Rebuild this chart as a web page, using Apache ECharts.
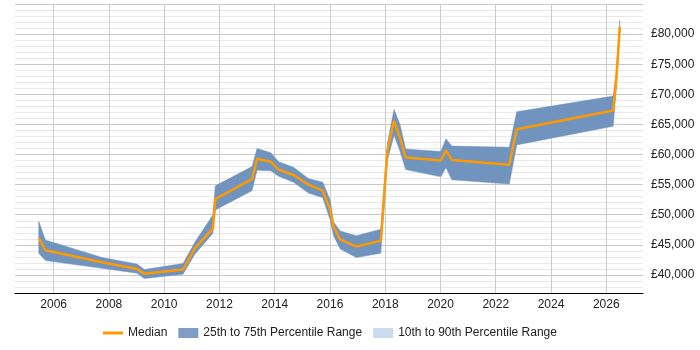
<!DOCTYPE html>
<html>
<head>
<meta charset="utf-8">
<script src="https://cdn.jsdelivr.net/npm/echarts@6/dist/echarts.min.js"></script>
<style>html,body{margin:0;padding:0;background:#fff;}#c{width:700px;height:350px;}</style>
</head>
<body>
<div id="c"></div>
<script>
const years = [2005.46, 2005.70, 2007.75, 2009.02, 2009.28, 2010.68, 2011.12, 2011.76, 2011.85, 2013.18, 2013.36, 2013.86, 2014.14, 2014.68, 2015.22, 2015.74, 2016.01, 2016.13, 2016.37, 2016.95, 2017.84, 2018.08, 2018.32, 2018.54, 2018.74, 2020.01, 2020.20, 2020.41, 2022.49, 2022.76, 2026.25, 2026.37, 2026.49];
const median = [46100, 44100, 42100, 41000, 40200, 40900, 44500, 47700, 52600, 55900, 59300, 58800, 57500, 56600, 55000, 54000, 50800, 48000, 45900, 44700, 45700, 60700, 65600, 62700, 59500, 59000, 60700, 59100, 58300, 64200, 67300, 72900, 81200];
const q75 = [48900, 45800, 42900, 41800, 40900, 41900, 45500, 49950, 54800, 58000, 61000, 60300, 58800, 57900, 56000, 55400, 52400, 48800, 47300, 46500, 47600, 61900, 67500, 64900, 60900, 60500, 62600, 61400, 61200, 67100, 69700, 74000, 82300];
const q25 = [43600, 42400, 41100, 40300, 39400, 40100, 43500, 46900, 50800, 54000, 57400, 57300, 56400, 55400, 53600, 52800, 49100, 46500, 44300, 42900, 43600, 59100, 63200, 60500, 57500, 56300, 57800, 55800, 55100, 61600, 64700, 71400, 80700];
const xTicks = [2006, 2008, 2010, 2012, 2014, 2016, 2018, 2020, 2022, 2024, 2026];
const yTicks = [40000, 45000, 50000, 55000, 60000, 65000, 70000, 75000, 80000];

const FONT = '"Liberation Sans", Arial, sans-serif';
const bandColor = '#7094bd';
const lightColor = '#c9dbee';
const medColor = '#ff9900';

const chart = echarts.init(document.getElementById('c'), null, {renderer: 'canvas'});
const bandData = years.map((x, i) => [x, q25[i], q75[i]]);
const medData = years.map((x, i) => [x, median[i]]);

function renderBand(params, api) {
  if (params.dataIndex !== 0) return null;
  const pts = [];
  for (let i = 0; i < years.length; i++) pts.push(api.coord([years[i], q75[i]]));
  for (let i = years.length - 1; i >= 0; i--) pts.push(api.coord([years[i], q25[i]]));
  return {type: 'polygon', shape: {points: pts}, style: {fill: bandColor, stroke: bandColor, lineWidth: 0.5}};
}

chart.setOption({
  animation: false,
  textStyle: {fontFamily: FONT},
  grid: {left: 15, right: 57, top: 4, bottom: 57, containLabel: false},
  legend: {
    left: 98, bottom: 6,
    itemWidth: 20, itemHeight: 10, itemGap: 11,
    textStyle: {fontSize: 12, color: '#222', fontFamily: FONT},
    data: [
      {name: 'Median', icon: 'path://M0,0H20V3H0Z', itemStyle: {color: medColor}},
      {name: '25th to 75th Percentile Range', icon: 'rect', itemStyle: {color: '#7e9ec4'}},
      {name: '10th to 90th Percentile Range', icon: 'rect', itemStyle: {color: lightColor}}
    ]
  },
  xAxis: {
    type: 'value', min: 2004.6, max: 2027.33,
    axisLine: {show: true, lineStyle: {color: '#000', width: 1}},
    axisTick: {show: false, customValues: xTicks},
    axisLabel: {customValues: xTicks, color: '#222', fontSize: 12, margin: 6, fontFamily: FONT,
      formatter: v => String(Math.round(v))},
    splitLine: {show: true, lineStyle: {color: '#cccccc', width: 1}}
  },
  yAxis: {
    type: 'value', position: 'right', min: 37000, max: 85000, interval: 1000,
    axisLine: {show: false}, axisTick: {show: false},
    axisLabel: {customValues: yTicks, color: '#222', fontSize: 12, margin: 8, fontFamily: FONT,
      formatter: v => '£' + v.toLocaleString('en-GB')},
    splitLine: {show: true, lineStyle: {color: ['#e8e8e8', '#e8e8e8', '#e8e8e8', '#c8c8c8', '#e8e8e8'], width: 1}}
  },
  series: [
    {name: '25th to 75th Percentile Range', type: 'custom', data: bandData,
      encode: {x: 0, y: [1, 2]}, renderItem: renderBand, itemStyle: {color: bandColor}, z: 2},
    {name: '10th to 90th Percentile Range', type: 'line', data: [], symbol: 'none',
      itemStyle: {color: lightColor}, areaStyle: {color: lightColor}},
    {name: 'Median', type: 'line', data: medData, symbol: 'none',
      lineStyle: {color: medColor, width: 2.5}, itemStyle: {color: medColor}, z: 5}
  ]
});
</script>
</body>
</html>
